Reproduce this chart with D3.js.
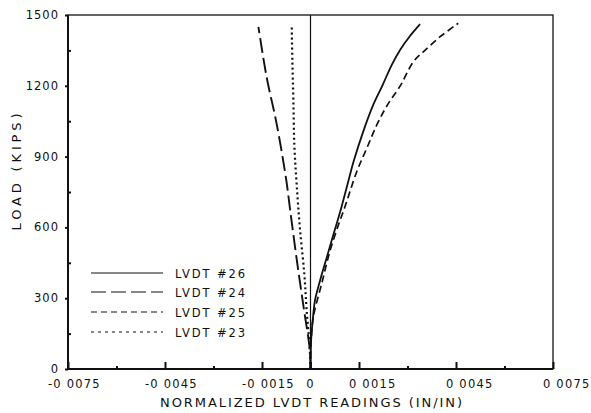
<!DOCTYPE html>
<html><head><meta charset="utf-8">
<script src="https://cdn.jsdelivr.net/npm/d3@7"></script>
<style>
html,body{margin:0;padding:0;background:#fff;}
svg{display:block;}
text{font-family:"DejaVu Sans",sans-serif;fill:#111;}
</style></head>
<body><svg id="c" width="591" height="413"></svg>
<script>
// ---- data ----
const seriesNames = ["LVDT #26", "LVDT #24", "LVDT #25", "LVDT #23"];
const loads26   = [0, 123, 208, 292, 377, 476, 589, 667, 801, 878, 1006, 1119, 1203, 1288, 1352, 1408, 1461];
const strain26  = [0, 0.00002, 0.00007, 0.00014, 0.00030, 0.00051, 0.00075, 0.00092, 0.00118, 0.00133, 0.00163, 0.00194, 0.00223, 0.00251, 0.00277, 0.00306, 0.00339];
const loads24   = [0, 80, 250, 419, 674, 801, 1041, 1239, 1450];
const strain24  = [0, -0.00002, -0.00020, -0.00038, -0.00063, -0.00075, -0.00105, -0.00136, -0.00161];
const loads25   = [0, 123, 222, 364, 504, 617, 681, 836, 935, 1034, 1119, 1203, 1302, 1344, 1408, 1465];
const strain25  = [0, 0.00002, 0.00009, 0.00035, 0.00061, 0.00088, 0.00105, 0.00143, 0.00174, 0.00205, 0.00238, 0.00279, 0.00318, 0.00349, 0.00401, 0.00457];
const loads23   = [0, 80, 250, 400, 600, 787, 950, 1140, 1300, 1450];
const strain23  = [0, -0.00002, -0.00012, -0.00019, -0.00033, -0.00043, -0.00050, -0.00053, -0.00056, -0.00058];

const xMajorTicks = [-0.0075, -0.0045, -0.0015, 0, 0.0015, 0.0045, 0.0075];
const xMajorLabels = ["-0 0075", "-0 0045", "-0 0015", "0", "0 0015", "0 0045", "0 0075"];
const xMinorTicks = [-0.006, -0.003, 0.003, 0.006];
const yMajorTicks = [0, 300, 600, 900, 1200, 1500];
const yMajorLabels = ["0", "300", "600", "900", "1200", "1500"];
const yMinorTicks = [150, 450, 750, 1050, 1350];

// ---- layout ----
const L = 68, R = 553, T = 15, B = 369;
const svg = d3.select("#c");
const x = d3.scaleLinear().domain([-0.0075, 0.0075]).range([L, R]);
const y = d3.scaleLinear().domain([0, 1500]).range([B, T]);

const dashes = [null, "15,5", "7,4", "2,3"];
const widths = [1.8, 1.9, 1.7, 2.2];
const legendDashes = [null, "15,5", "6,4", "3,4"];

// frame
svg.append("rect").attr("x", L).attr("y", T).attr("width", R - L).attr("height", B - T)
  .attr("fill", "none").attr("stroke", "#111").attr("stroke-width", 1.3);
svg.append("line").attr("x1", L).attr("x2", L).attr("y1", T).attr("y2", B)
  .attr("stroke", "#111").attr("stroke-width", 2);
svg.append("line").attr("x1", L).attr("x2", R).attr("y1", B).attr("y2", B)
  .attr("stroke", "#111").attr("stroke-width", 2);
// zero line
svg.append("line").attr("x1", x(0)).attr("x2", x(0)).attr("y1", T).attr("y2", B)
  .attr("stroke", "#111").attr("stroke-width", 1.2);

// x axis ticks
const xAx = svg.append("g").attr("transform", `translate(0,${B})`)
  .call(d3.axisBottom(x).tickValues(xMajorTicks).tickSizeInner(-7).tickSizeOuter(0).tickFormat(""));
xAx.select(".domain").remove();
xAx.selectAll(".tick line").attr("stroke", "#111").attr("stroke-width", 2);
const xAxm = svg.append("g").attr("transform", `translate(0,${B})`)
  .call(d3.axisBottom(x).tickValues(xMinorTicks).tickSizeInner(-3).tickSizeOuter(0).tickFormat(""));
xAxm.select(".domain").remove();
xAxm.selectAll(".tick line").attr("stroke", "#111").attr("stroke-width", 2);

// x tick labels aligned roughly at decimal point
svg.append("g").selectAll("text").data(xMajorTicks).join("text")
  .attr("x", (d, i) => x(d) + (d === 0 ? 0 : (d < 0 ? -20 : -10)))
  .attr("y", 388)
  .attr("text-anchor", d => d === 0 ? "middle" : "start")
  .attr("font-size", 11.5)
  .attr("letter-spacing", 1.2)
  .text((d, i) => xMajorLabels[i]);

// y axis ticks
const yAx = svg.append("g").attr("transform", `translate(${L},0)`)
  .call(d3.axisLeft(y).tickValues(yMajorTicks).tickSizeInner(3).tickSizeOuter(0).tickFormat(""));
yAx.select(".domain").remove();
yAx.selectAll(".tick line").attr("stroke", "#111").attr("stroke-width", 2);
const yAxm = svg.append("g").attr("transform", `translate(${L},0)`)
  .call(d3.axisLeft(y).tickValues(yMinorTicks).tickSizeInner(-3).tickSizeOuter(0).tickFormat(""));
yAxm.select(".domain").remove();
yAxm.selectAll(".tick line").attr("stroke", "#111").attr("stroke-width", 2);

svg.append("g").selectAll("text").data(yMajorTicks).join("text")
  .attr("x", 59).attr("y", d => y(d) + 4)
  .attr("text-anchor", "end")
  .attr("font-size", 11.5)
  .attr("letter-spacing", 1)
  .text((d, i) => yMajorLabels[i]);

// axis titles
svg.append("text").attr("x", 311).attr("y", 407).attr("text-anchor", "middle")
  .attr("font-size", 13).attr("textLength", 302).attr("lengthAdjust", "spacing")
  .text("NORMALIZED LVDT READINGS (IN/IN)");
svg.append("text").attr("transform", "translate(21,172) rotate(-90)").attr("text-anchor", "middle")
  .attr("font-size", 13).attr("textLength", 117).attr("lengthAdjust", "spacing")
  .text("LOAD (KIPS)");

// curves
const series = [
  {s: strain26, l: loads26},
  {s: strain24, l: loads24},
  {s: strain25, l: loads25},
  {s: strain23, l: loads23}
];
const line = d3.line().x(d => x(d[0])).y(d => y(d[1])).curve(d3.curveCatmullRom.alpha(0.5));
series.forEach((ser, i) => {
  const pts = ser.s.map((v, k) => [v, ser.l[k]]);
  svg.append("path").attr("d", line(pts)).attr("fill", "none")
    .attr("stroke", "#111").attr("stroke-width", widths[i])
    .attr("stroke-dasharray", dashes[i]);
});

// legend
const legY = [273, 292, 312, 332];
const lg = svg.append("g");
seriesNames.forEach((name, i) => {
  lg.append("line").attr("x1", 91).attr("x2", 163).attr("y1", legY[i]).attr("y2", legY[i])
    .attr("stroke", "#111").attr("stroke-width", 1.1).attr("stroke-dasharray", legendDashes[i]);
  lg.append("text").attr("x", 175).attr("y", legY[i] + 4.5).attr("font-size", 11.5)
    .attr("textLength", 70).attr("lengthAdjust", "spacing").text(name);
});
</script></body></html>
